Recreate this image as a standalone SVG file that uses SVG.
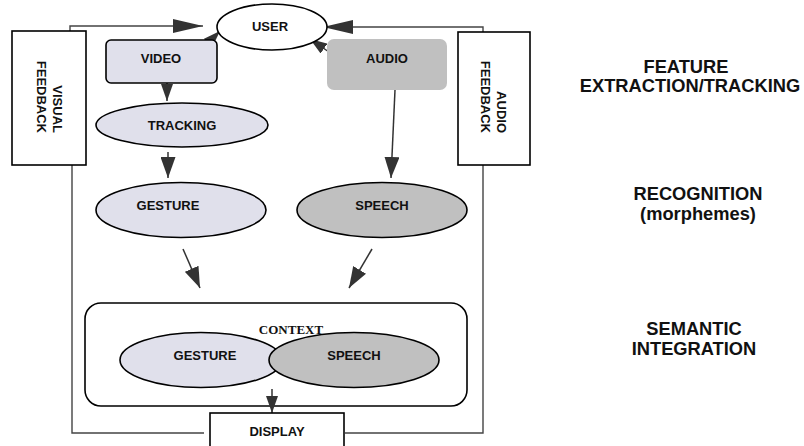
<svg xmlns="http://www.w3.org/2000/svg" width="804" height="446" viewBox="0 0 804 446">
<defs>
<style>
.box{fill:#fff;stroke:#000;stroke-width:1.6}
.lav{fill:#e0e0eb;stroke:#000;stroke-width:1.6}
.gry{fill:#c0c0c0;stroke:#000;stroke-width:1.6}
.fb{fill:none;stroke:#444;stroke-width:1.4}
.ar{fill:none;stroke:#333;stroke-width:1.5}
.t{font-family:"Liberation Sans",Arial,sans-serif;font-weight:bold;font-size:13px;fill:#111;text-anchor:middle}
.tr{font-family:"Liberation Sans",Arial,sans-serif;font-weight:bold;font-size:13px;fill:#111;text-anchor:end}
.lab{font-family:"Liberation Sans",Arial,sans-serif;font-weight:bold;font-size:18.3px;fill:#111;text-anchor:middle}
.ctx{font-family:"Liberation Serif","Times New Roman",serif;font-weight:bold;font-size:13px;fill:#111;text-anchor:middle}
</style>
<marker id="big" markerUnits="userSpaceOnUse" markerWidth="30" markerHeight="14" refX="30" refY="7" orient="auto"><path d="M0,0 L30,7 L0,14 z" fill="#333"/></marker>
<marker id="mid" markerUnits="userSpaceOnUse" markerWidth="21" markerHeight="15" refX="21" refY="7.5" orient="auto"><path d="M0,0 L21,7.5 L0,15 z" fill="#333"/></marker>
<marker id="sm" markerUnits="userSpaceOnUse" markerWidth="17" markerHeight="12" refX="17" refY="6" orient="auto"><path d="M0,0 L17,6 L0,12 z" fill="#333"/></marker>
</defs>
<rect width="804" height="446" fill="#fff"/>

<g id="connectors">
<polyline class="fb" points="70,31 70,26 203,26" marker-end="url(#big)"/>
<polyline class="fb" points="483,32 483,27 323,27" marker-end="url(#big)"/>
<polyline class="fb" points="72,165 72,433 204,433"/>
<polyline class="fb" points="483,165 483,433 345,433"/>
<line class="ar" x1="204" y1="47" x2="220" y2="31" marker-end="url(#sm)"/>
<line class="ar" x1="329" y1="52" x2="310" y2="39" marker-end="url(#sm)"/>
<line class="ar" x1="167" y1="83" x2="167" y2="101" marker-end="url(#sm)"/>
<line class="ar" x1="168" y1="152" x2="168" y2="178" marker-end="url(#mid)"/>
<line class="ar" x1="395" y1="90" x2="391" y2="178" marker-end="url(#mid)"/>
<line class="ar" x1="183" y1="249" x2="200" y2="288" marker-end="url(#mid)"/>
<line class="ar" x1="372" y1="249" x2="349" y2="288" marker-end="url(#mid)"/>
</g>

<g id="visual-feedback">
<rect class="box" x="12" y="31" width="74" height="134"/>
<text class="tr" transform="translate(53,133) rotate(90)">VISUAL</text>
<text class="tr" transform="translate(37,133) rotate(90)">FEEDBACK</text>
</g>
<g id="audio-feedback">
<rect class="box" x="458" y="32" width="72" height="133"/>
<text class="tr" transform="translate(497,133) rotate(90)">AUDIO</text>
<text class="tr" transform="translate(481,133) rotate(90)">FEEDBACK</text>
</g>

<g id="user">
<ellipse class="box" cx="272" cy="27" rx="55" ry="23"/>
<text class="t" x="270" y="31">USER</text>
</g>
<g id="video">
<rect class="lav" x="106" y="40" width="111" height="43" rx="5"/>
<text class="t" x="161" y="63">VIDEO</text>
</g>
<g id="audio">
<rect x="327" y="39" width="120" height="51" rx="7" fill="#c0c0c0"/>
<text class="t" x="387" y="63">AUDIO</text>
</g>
<g id="tracking">
<ellipse class="lav" cx="182" cy="125" rx="86" ry="22"/>
<text class="t" x="182" y="130">TRACKING</text>
</g>
<g id="gesture">
<ellipse class="lav" cx="181" cy="210" rx="85" ry="27.5"/>
<text class="t" x="168" y="210">GESTURE</text>
</g>
<g id="speech">
<ellipse class="gry" cx="382" cy="210" rx="85" ry="27.5"/>
<text class="t" x="382" y="210">SPEECH</text>
</g>

<g id="context">
<rect class="box" x="85" y="303" width="382" height="103" rx="16"/>
<ellipse class="lav" cx="201" cy="360" rx="81" ry="27.5"/>
<ellipse class="gry" cx="354" cy="360" rx="85" ry="27.5"/>
<text class="ctx" x="291" y="334">CONTEXT</text>
<text class="t" x="205" y="360">GESTURE</text>
<text class="t" x="354" y="360">SPEECH</text>
</g>
<line class="ar" x1="272" y1="389" x2="272" y2="413" marker-end="url(#sm)"/>

<g id="display">
<rect class="box" x="210" y="413" width="134" height="34"/>
<text class="t" x="277" y="436">DISPLAY</text>
</g>

<g id="stage-labels">
<text class="lab" x="686" y="73">FEATURE</text>
<text class="lab" x="690" y="92">EXTRACTION/TRACKING</text>
<text class="lab" x="698" y="200">RECOGNITION</text>
<text class="lab" x="698" y="220">(morphemes)</text>
<text class="lab" x="694" y="335">SEMANTIC</text>
<text class="lab" x="694" y="355">INTEGRATION</text>
</g>
</svg>
